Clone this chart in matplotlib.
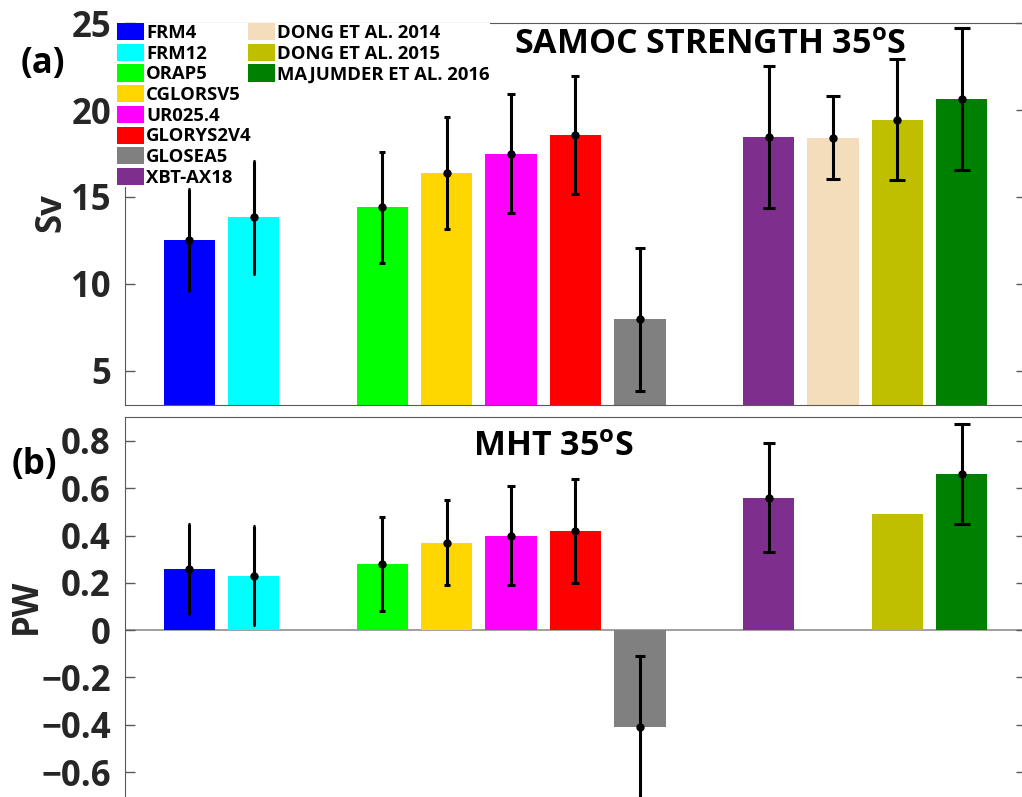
import numpy as np
import matplotlib
matplotlib.use('Agg')
import matplotlib.pyplot as plt
from matplotlib.patches import Patch

plt.rcParams['font.family'] = ['Open Sans', 'DejaVu Sans']
plt.rcParams['font.weight'] = 'bold'
plt.rcParams['mathtext.fontset'] = 'custom'
plt.rcParams['mathtext.rm'] = 'Open Sans:bold'
plt.rcParams['mathtext.bf'] = 'Open Sans:bold'

# Data
labels = ['FRM4', 'FRM12', 'ORAP5', 'CGLORSV5', 'UR025.4', 'GLORYS2V4', 'GLOSEA5',
          'XBT-AX18', 'DONG ET AL. 2014', 'DONG ET AL. 2015', 'MAJUMDER ET AL. 2016']
colors = ['#0000FF', '#00FFFF', '#00FF00', '#FFD700', '#FF00FF', '#FF0000', '#808080',
          '#7E2F8E', '#F3DDBA', '#BFBF00', '#008000']
pos = [1, 2, 4, 5, 6, 7, 8, 10, 11, 12, 13]

samoc = [12.54, 13.82, 14.4, 16.38, 17.5, 18.54, 7.95, 18.44, 18.41, 19.45, 20.64]
samoc_err = [2.94, 3.26, 3.2, 3.2, 3.4, 3.4, 4.1, 4.1, 2.4, 3.5, 4.1]

mht = [0.26, 0.23, 0.28, 0.37, 0.40, 0.42, -0.41, 0.56, np.nan, 0.49, 0.66]
mht_err = [0.19, 0.21, 0.20, 0.18, 0.21, 0.22, 0.30, 0.23, np.nan, np.nan, 0.21]

tick_color = '#262626'
spine_color = '#5a5a5a'

fig = plt.figure(figsize=(10.22, 7.97), dpi=100)
ax1 = fig.add_axes([0.1222, 0.4915, 0.8818, 0.4793])
ax2 = fig.add_axes([0.1222, -0.028, 0.8818, 0.5044])


def draw_panel(ax, vals, errs):
    for p, v, e, c in zip(pos, vals, errs, colors):
        if np.isnan(v):
            continue
        ax.bar(p, v, width=0.8, color=c, zorder=2)
        if not np.isnan(e):
            # cap width grows with x position (old matlab errorbar behaviour)
            ax.errorbar(p, v, yerr=e, fmt='o', color='k', ms=5, lw=2.2,
                        capsize=0.46 * p, capthick=2.2, zorder=3)
    ax.set_xlim(0, 14)
    ax.set_xticks([])
    for s in ax.spines.values():
        s.set_color(spine_color)
    ax.tick_params(axis='y', direction='in', length=7, width=1, color=spine_color,
                   labelcolor=tick_color, labelsize=25, pad=10, right=True)


draw_panel(ax1, samoc, samoc_err)
ax1.set_ylim(3, 25)
ax1.set_yticks([5, 10, 15, 20, 25])

draw_panel(ax2, mht, mht_err)
ax2.axhline(0, color='#909090', lw=1.2, zorder=1)
ax2.set_ylim(-0.8, 0.9)
ax2.set_yticks([-0.6, -0.4, -0.2, 0, 0.2, 0.4, 0.6, 0.8])
ax2.set_yticklabels(['\u22120.6', '\u22120.4', '\u22120.2', '0', '0.2', '0.4', '0.6', '0.8'])

# titles inside the panels
ax1.text(0.649, 0.943, r'SAMOC STRENGTH 35$^{\mathbf{o}}$S', transform=ax1.transAxes,
         ha='center', va='center', fontsize=24.5, fontweight='bold', color='k')
ax2.text(0.475, 0.926, r'MHT 35$^{\mathbf{o}}$S', transform=ax2.transAxes,
         ha='center', va='center', fontsize=24.5, fontweight='bold', color='k')

fig.text(43 / 1022, 1 - 64 / 797, '(a)', ha='center', va='center', fontsize=25,
         fontweight='bold', color='k')
fig.text(34 / 1022, 1 - 465 / 797, '(b)', ha='center', va='center', fontsize=25,
         fontweight='bold', color='k')
fig.text(51 / 1022, 1 - 213 / 797, 'Sv', ha='center', va='center', fontsize=25,
         fontweight='bold', color=tick_color, rotation=90)
fig.text(27 / 1022, 1 - 606 / 797, 'PW', ha='center', va='center', fontsize=25,
         fontweight='bold', color=tick_color, rotation=90)

# legends: 8 entries in first column, 3 in second
handles = [Patch(facecolor=c, edgecolor='none') for c in colors]
leg_kw = dict(frameon=True, fancybox=False, edgecolor='none', facecolor='white', framealpha=1,
              loc='upper left', borderpad=0, borderaxespad=0, labelspacing=0.1,
              handlelength=1.44, handleheight=1.05, handletextpad=0.15,
              prop={'size': 13.3, 'weight': 'bold'}, bbox_transform=fig.transFigure)
leg1 = ax1.legend(handles[:8], labels[:8], bbox_to_anchor=(117 / 1022, 1 - 23 / 797), **leg_kw)
leg1.set_zorder(5)
ax1.add_artist(leg1)
leg2 = ax1.legend(handles[8:], labels[8:], bbox_to_anchor=(248 / 1022, 1 - 23 / 797), **leg_kw)
leg2.set_zorder(5)

fig.savefig('out.png', dpi=100)
